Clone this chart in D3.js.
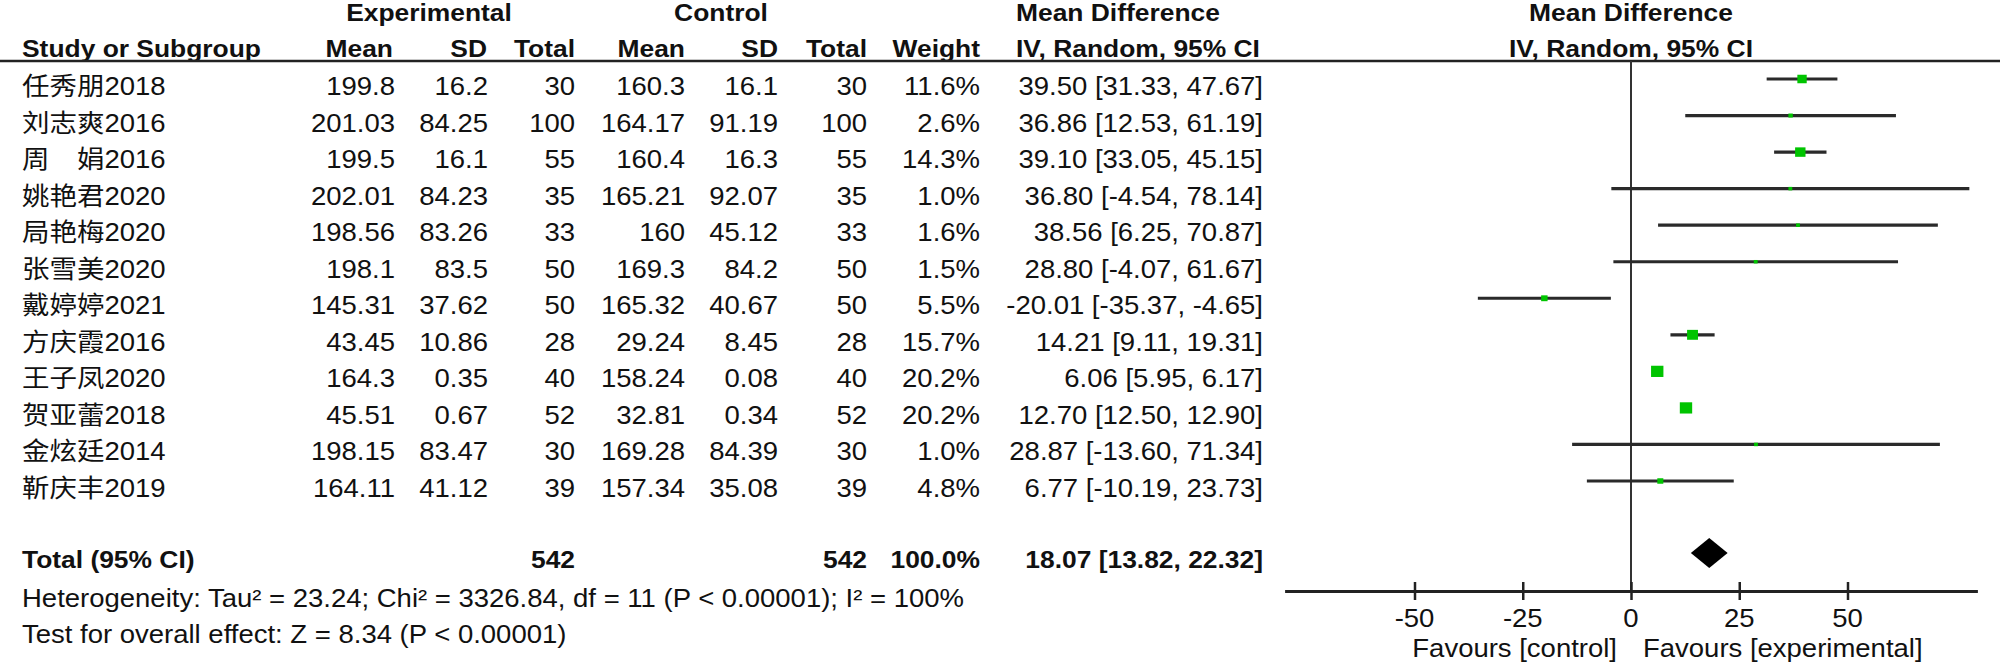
<!DOCTYPE html>
<html><head><meta charset="utf-8">
<script src="https://cdn.jsdelivr.net/npm/d3@7"></script>
<style>
html,body{margin:0;padding:0;background:#fff;}
svg{display:block;}
text{font-family:"Liberation Sans",Arial,"Noto Sans CJK SC",sans-serif;fill:#111;}
</style></head>
<body>
<svg id="chart" width="2000" height="666"></svg>
<script>
// ---- data ----
const studies = ["任秀朋2018","刘志爽2016","周　娟2016","姚艳君2020","局艳梅2020","张雪美2020","戴婷婷2021","方庆霞2016","王子凤2020","贺亚蕾2018","金炫廷2014","靳庆丰2019"];
const expMean = [199.8, 201.03, 199.5, 202.01, 198.56, 198.1, 145.31, 43.45, 164.3, 45.51, 198.15, 164.11];
const expSD   = [16.2, 84.25, 16.1, 84.23, 83.26, 83.5, 37.62, 10.86, 0.35, 0.67, 83.47, 41.12];
const expN    = [30, 100, 55, 35, 33, 50, 50, 28, 40, 52, 30, 39];
const ctlMean = [160.3, 164.17, 160.4, 165.21, 160, 169.3, 165.32, 29.24, 158.24, 32.81, 169.28, 157.34];
const ctlSD   = [16.1, 91.19, 16.3, 92.07, 45.12, 84.2, 40.67, 8.45, 0.08, 0.34, 84.39, 35.08];
const ctlN    = [30, 100, 55, 35, 33, 50, 50, 28, 40, 52, 30, 39];
const weights = [11.6, 2.6, 14.3, 1.0, 1.6, 1.5, 5.5, 15.7, 20.2, 20.2, 1.0, 4.8];
const md      = [39.50, 36.86, 39.10, 36.80, 38.56, 28.80, -20.01, 14.21, 6.06, 12.70, 28.87, 6.77];
const ciLow   = [31.33, 12.53, 33.05, -4.54, 6.25, -4.07, -35.37, 9.11, 5.95, 12.50, -13.60, -10.19];
const ciHigh  = [47.67, 61.19, 45.15, 78.14, 70.87, 61.67, -4.65, 19.31, 6.17, 12.90, 71.34, 23.73];
const total   = {expN: 542, ctlN: 542, weight: "100.0%", md: 18.07, lo: 13.82, hi: 22.32};
const axisTicks = [-50, -25, 0, 25, 50];
const heterogeneity = "Heterogeneity: Tau² = 23.24; Chi² = 3326.84, df = 11 (P < 0.00001); I² = 100%";
const overall = "Test for overall effect: Z = 8.34 (P < 0.00001)";

// ---- layout ----
const svg = d3.select("#chart");
const SX = 1.1;          // horizontal stretch of the text
const FS = 25, FSB = 24;
const x = d3.scaleLinear().domain([-80, 80]).range([1284.6, 1977.4]);
const rowY = d3.scaleLinear().domain([0, 11]).range([79, 481]);   // forest marks
const textOff = 7;
const fmt = v => v.toFixed(2);

function txt(xp, cy, s, anchor, bold, size) {
  const fs = size || (bold ? FSB : FS);
  svg.append("text")
    .attr("transform", `translate(${xp},${cy + 0.36 * fs}) scale(${SX},1)`)
    .attr("text-anchor", anchor || "start")
    .attr("font-size", fs)
    .attr("font-weight", bold ? "bold" : "normal")
    .text(s);
}

// headers
txt(429, 12, "Experimental", "middle", true);
txt(721, 12, "Control", "middle", true);
txt(1016, 12, "Mean Difference", "start", true);
txt(x(0), 12, "Mean Difference", "middle", true);
const h2 = 48;
txt(22, h2, "Study or Subgroup", "start", true);
txt(393, h2, "Mean", "end", true);
txt(487, h2, "SD", "end", true);
txt(575, h2, "Total", "end", true);
txt(685, h2, "Mean", "end", true);
txt(778, h2, "SD", "end", true);
txt(867, h2, "Total", "end", true);
txt(980, h2, "Weight", "end", true);
txt(1016, h2, "IV, Random, 95% CI", "start", true);
txt(x(0), h2, "IV, Random, 95% CI", "middle", true);

svg.append("line").attr("x1", 0).attr("x2", 2000).attr("y1", 61).attr("y2", 61)
  .attr("stroke", "#222").attr("stroke-width", 2.5);

// rows
studies.forEach((s, i) => {
  const cy = rowY(i) + textOff;
  txt(22, cy, s, "start");
  txt(395, cy, String(expMean[i]), "end");
  txt(488, cy, String(expSD[i]), "end");
  txt(575, cy, String(expN[i]), "end");
  txt(685, cy, String(ctlMean[i]), "end");
  txt(778, cy, String(ctlSD[i]), "end");
  txt(867, cy, String(ctlN[i]), "end");
  txt(980, cy, weights[i].toFixed(1) + "%", "end");
  txt(1263, cy, `${fmt(md[i])} [${fmt(ciLow[i])}, ${fmt(ciHigh[i])}]`, "end");
});

// total row
const ty = 559;
txt(22, ty, "Total (95% CI)", "start", true);
txt(575, ty, String(total.expN), "end", true);
txt(867, ty, String(total.ctlN), "end", true);
txt(980, ty, total.weight, "end", true);
txt(1263, ty, `${fmt(total.md)} [${fmt(total.lo)}, ${fmt(total.hi)}]`, "end", true);
txt(22, 598, heterogeneity, "start");
txt(22, 634, overall, "start");

// zero line
svg.append("line").attr("x1", x(0)).attr("x2", x(0)).attr("y1", 61).attr("y2", 591)
  .attr("stroke", "#333").attr("stroke-width", 2);

// CI lines
const g = svg.append("g");
g.selectAll("line.ci").data(studies).join("line").attr("class", "ci")
  .attr("x1", (d, i) => x(ciLow[i])).attr("x2", (d, i) => x(ciHigh[i]))
  .attr("y1", (d, i) => rowY(i)).attr("y2", (d, i) => rowY(i))
  .attr("stroke", "#2a2a2a").attr("stroke-width", 3.2);
// squares
const side = w => Math.max(3.5, 2.5 * Math.sqrt(w));
g.selectAll("rect.sq").data(studies).join("rect").attr("class", "sq")
  .attr("x", (d, i) => x(md[i]) - side(weights[i]) * SX / 2)
  .attr("y", (d, i) => rowY(i) - side(weights[i]) / 2)
  .attr("width", (d, i) => side(weights[i]) * SX)
  .attr("height", (d, i) => side(weights[i]))
  .attr("fill", "#00c400");

// diamond
const dy = 553, dh = 15;
svg.append("path")
  .attr("d", `M${x(total.lo)},${dy} L${x(total.md)},${dy - dh} L${x(total.hi)},${dy} L${x(total.md)},${dy + dh} Z`)
  .attr("fill", "#000");

// axis
const axis = d3.axisBottom(x).tickValues(axisTicks).tickSizeInner(9).tickSizeOuter(0).tickPadding(6)
  .tickFormat(d => String(d));
const ag = svg.append("g").attr("transform", "translate(0,591)").call(axis);
ag.select(".domain").attr("stroke", "#222").attr("stroke-width", 3);
ag.selectAll(".tick line").attr("y1", -9).attr("y2", 9).attr("stroke", "#222").attr("stroke-width", 2.5);
ag.selectAll(".tick text").remove();
axisTicks.forEach(t => txt(x(t), 618, String(t), "middle"));

txt(x(0) - 14, 648, "Favours [control]", "end");
txt(x(0) + 12, 648, "Favours [experimental]", "start");
</script>
</body></html>
